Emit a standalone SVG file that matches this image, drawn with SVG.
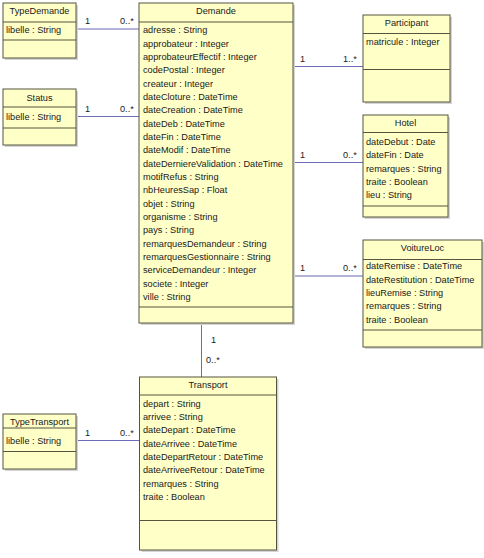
<svg xmlns="http://www.w3.org/2000/svg" width="484" height="558" viewBox="0 0 484 558">
<defs>
<style>
.box{fill:#ffffc8;stroke:#55553f;stroke-width:1}
.sh{fill:#d4d4d4}
.div{stroke:#55553f;stroke-width:1}
text{font-family:"Liberation Sans",Arial,sans-serif;font-size:9.2px;font-weight:normal;fill:#1a1a1a}
.t{text-anchor:middle}
.con{stroke:#6b6bb8;stroke-width:1;fill:none}
</style>
</defs>
<rect width="484" height="558" fill="#ffffff"/>
<g id="connectors">
<line class="con" x1="76" y1="29" x2="139" y2="29"/>
<line class="con" x1="76" y1="116.5" x2="139" y2="116.5"/>
<line class="con" x1="293" y1="66.5" x2="363" y2="66.5"/>
<line class="con" x1="293" y1="162.5" x2="363" y2="162.5"/>
<line class="con" x1="293" y1="276" x2="363" y2="276"/>
<line class="con" x1="201.5" y1="323" x2="201.5" y2="377"/>
<line class="con" x1="76" y1="440.5" x2="139" y2="440.5"/>
<text x="85" y="24">1</text><text x="120" y="24">0..*</text>
<text x="85" y="112">1</text><text x="120" y="112">0..*</text>
<text x="300" y="62">1</text><text x="343" y="62">1..*</text>
<text x="300" y="158">1</text><text x="343" y="158">0..*</text>
<text x="300" y="271">1</text><text x="343" y="271">0..*</text>
<text x="211" y="343">1</text><text x="206" y="363">0..*</text>
<text x="85" y="436">1</text><text x="120" y="436">0..*</text>
</g>
<g id="TypeDemande">
<rect class="sh" x="5" y="5" width="73" height="55"/>
<rect class="box" x="3" y="3" width="73" height="55"/>
<line class="div" x1="3" y1="22" x2="76" y2="22"/>
<line class="div" x1="3" y1="40" x2="76" y2="40"/>
<text class="t" x="39.5" y="14">TypeDemande</text>
<text x="6" y="33">libelle : String</text>
</g>
<g id="Status">
<rect class="sh" x="5" y="91" width="73" height="56"/>
<rect class="box" x="3" y="89" width="73" height="56"/>
<line class="div" x1="3" y1="107" x2="76" y2="107"/>
<line class="div" x1="3" y1="128" x2="76" y2="128"/>
<text class="t" x="39.5" y="101">Status</text>
<text x="6" y="120">libelle : String</text>
</g>
<g id="Demande">
<rect class="sh" x="141" y="5" width="154" height="320"/>
<rect class="box" x="139" y="3" width="154" height="320"/>
<line class="div" x1="139" y1="22" x2="293" y2="22"/>
<line class="div" x1="139" y1="307" x2="293" y2="307"/>
<text class="t" x="216" y="14">Demande</text>
<text x="143" y="33.3">adresse : String</text>
<text x="143" y="46.6">approbateur : Integer</text>
<text x="143" y="60">approbateurEffectif : Integer</text>
<text x="143" y="73.3">codePostal : Integer</text>
<text x="143" y="86.6">createur : Integer</text>
<text x="143" y="100">dateCloture : DateTime</text>
<text x="143" y="113.3">dateCreation : DateTime</text>
<text x="143" y="126.6">dateDeb : DateTime</text>
<text x="143" y="140">dateFin : DateTime</text>
<text x="143" y="153.3">dateModif : DateTime</text>
<text x="143" y="166.6">dateDerniereValidation : DateTime</text>
<text x="143" y="180">motifRefus : String</text>
<text x="143" y="193.3">nbHeuresSap : Float</text>
<text x="143" y="206.6">objet : String</text>
<text x="143" y="220">organisme : String</text>
<text x="143" y="233.3">pays : String</text>
<text x="143" y="246.6">remarquesDemandeur : String</text>
<text x="143" y="260">remarquesGestionnaire : String</text>
<text x="143" y="273.3">serviceDemandeur : Integer</text>
<text x="143" y="286.6">societe : Integer</text>
<text x="143" y="300">ville : String</text>
</g>
<g id="Participant">
<rect class="sh" x="365" y="17" width="87" height="87"/>
<rect class="box" x="363" y="15" width="87" height="87"/>
<line class="div" x1="363" y1="33.5" x2="450" y2="33.5"/>
<line class="div" x1="363" y1="69.5" x2="450" y2="69.5"/>
<text class="t" x="406.5" y="26">Participant</text>
<text x="366" y="45">matricule : Integer</text>
</g>
<g id="Hotel">
<rect class="sh" x="365" y="117" width="85" height="102"/>
<rect class="box" x="363" y="115" width="85" height="102"/>
<line class="div" x1="363" y1="132.5" x2="448" y2="132.5"/>
<line class="div" x1="363" y1="206" x2="448" y2="206"/>
<text class="t" x="405.5" y="126">Hotel</text>
<text x="366" y="145">dateDebut : Date</text>
<text x="366" y="158.3">dateFin : Date</text>
<text x="366" y="171.6">remarques : String</text>
<text x="366" y="185">traite : Boolean</text>
<text x="366" y="198.3">lieu : String</text>
</g>
<g id="VoitureLoc">
<rect class="sh" x="365" y="242" width="119" height="107"/>
<rect class="box" x="363" y="240" width="119" height="107"/>
<line class="div" x1="363" y1="259.5" x2="482" y2="259.5"/>
<line class="div" x1="363" y1="330" x2="482" y2="330"/>
<text class="t" x="422.5" y="251">VoitureLoc</text>
<text x="366" y="269.3">dateRemise : DateTime</text>
<text x="366" y="282.6">dateRestitution : DateTime</text>
<text x="366" y="296">lieuRemise : String</text>
<text x="366" y="309.3">remarques : String</text>
<text x="366" y="322.6">traite : Boolean</text>
</g>
<g id="Transport">
<rect class="sh" x="141.5" y="379" width="137" height="173"/>
<rect class="box" x="139.5" y="377" width="137" height="173"/>
<line class="div" x1="139.5" y1="395" x2="276.5" y2="395"/>
<line class="div" x1="139.5" y1="520.5" x2="276.5" y2="520.5"/>
<text class="t" x="208" y="388">Transport</text>
<text x="143" y="406.6">depart : String</text>
<text x="143" y="420">arrivee : String</text>
<text x="143" y="433.3">dateDepart : DateTime</text>
<text x="143" y="446.6">dateArrivee : DateTime</text>
<text x="143" y="460">dateDepartRetour : DateTime</text>
<text x="143" y="473.3">dateArriveeRetour : DateTime</text>
<text x="143" y="486.6">remarques : String</text>
<text x="143" y="500">traite : Boolean</text>
</g>
<g id="TypeTransport">
<rect class="sh" x="5" y="416" width="73" height="55"/>
<rect class="box" x="3" y="414" width="73" height="55"/>
<line class="div" x1="3" y1="428" x2="76" y2="428"/>
<line class="div" x1="3" y1="451.5" x2="76" y2="451.5"/>
<text class="t" x="39.5" y="425">TypeTransport</text>
<text x="6" y="444">libelle : String</text>
</g>
</svg>
